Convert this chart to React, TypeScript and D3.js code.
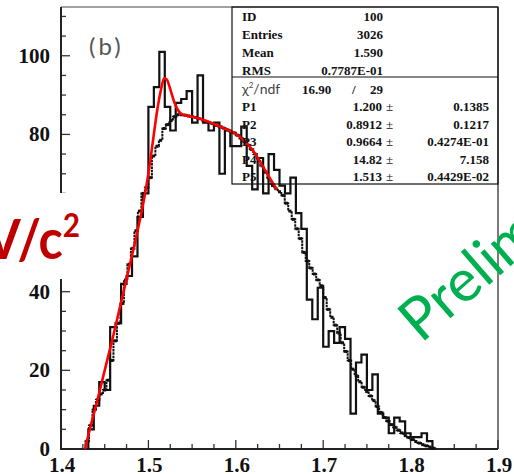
import React from 'react';
import * as d3 from 'd3';

const W = 514;
const H = 474;

// Data histogram: 80 bins of 6.25 MeV between 1.4 and 1.9
const histStart = 1.4;
const histBinWidth = 0.00625;
const dataCounts = [
  0, 0, 0, 0, 0, 5, 11, 17, 15, 31,
  32, 42, 44, 49, 59, 65, 87, 92, 101, 87,
  81, 88, 89, 91, 83, 95, 83, 81, 83, 70,
  81, 77, 77, 82, 72, 66, 74, 65, 75, 71,
  67, 65, 69, 60, 56, 38, 33, 41, 26, 30,
  27, 31, 28, 9, 22, 24, 15, 19, 9, 8,
  4, 8, 7, 4, 3, 3, 4, 2, 0, 0,
  0, 0, 0, 0, 0, 0, 0, 0, 0, 0,
];

// Reference shape (fine-binned, drawn dotted)
const mcStart = 1.428;
const mcBinWidth = 0.004;
const mcCounts = [
  2, 6, 10, 12.5, 14, 15, 17.5, 22.5, 27.5, 32,
  37, 43, 47, 51, 55.5, 60.5, 65, 66.5, 69, 74.5,
  77, 78.5, 81.5, 82.5, 83.5, 84.5, 85, 85, 84.9, 84.7,
  84.5, 84.3, 84, 83.7, 83.3, 83, 82.7, 82.3, 82, 81.6,
  81.2, 80.8, 80.4, 79.8, 79, 78.2, 77.3, 76.2, 75, 73.5,
  72, 70.4, 68.7, 67, 66.2, 65.4, 64.5, 62.5, 60.5, 58.4,
  56, 53.5, 50, 47.8, 46, 44.5, 43, 41.5, 38.5, 35.5,
  33.5, 31.5, 29.5, 27, 24.8, 22.5, 20.3, 18.6, 17.1, 15.7,
  14.6, 13.5, 12.3, 10.8, 9.3, 8, 7.1, 6.2, 5.5, 4.8,
  4.1, 3.4, 2.9, 2.4, 1.9, 1.5, 1.1, 0.8, 0.5, 0.2,
];

// Fit curve
const fitMass = [
  1.4275, 1.435, 1.44, 1.45, 1.46, 1.47, 1.48, 1.49, 1.495, 1.5,
  1.505, 1.51, 1.515, 1.518, 1.521, 1.525, 1.53, 1.535, 1.54, 1.55,
  1.56, 1.57, 1.58, 1.59, 1.6, 1.61, 1.62, 1.63, 1.64, 1.647,
];
const fitValue = [
  0, 6.8, 11, 20, 29, 38.5, 48, 58, 63.5, 70,
  78, 86, 92, 94.3, 94, 91.5, 88, 85.8, 85, 84.5,
  83.9, 83.1, 82.2, 81.2, 80.1, 78.3, 75.8, 72.2, 68.5, 66,
];

const xTicks = [1.4, 1.5, 1.6, 1.7, 1.8, 1.9];
const yTicks = [0, 20, 40, 60, 80, 100];

const statLabels = ['ID', 'Entries', 'Mean', 'RMS'];
const statValues = ['100', '3026', '1.590', '0.7787E-01'];
const chi2Value = '16.90';
const ndfValue = '29';
const parNames = ['P1', 'P2', 'P3', 'P4', 'P5'];
const parValues = ['1.200', '0.8912', '0.9664', '14.82', '1.513'];
const parErrors = ['0.1385', '0.1217', '0.4274E-01', '7.158', '0.4429E-02'];

const serif = '"Liberation Serif", "Times New Roman", serif';
const sans = 'Lato, "Open Sans", sans-serif';

export default function App() {
  const x = d3.scaleLinear().domain([1.4, 1.9]).range([61, 498]);
  const y = d3.scaleLinear().domain([0, 112.4]).range([449, 7]);

  type P = { m: number; v: number };
  const stepLine = d3
    .line<P>()
    .x((d) => x(d.m))
    .y((d) => y(d.v))
    .curve(d3.curveStepAfter);

  // data histogram outline
  const first = dataCounts.findIndex((c) => c > 0);
  let last = dataCounts.length - 1;
  while (dataCounts[last] === 0) last--;
  const histPts: P[] = [{ m: histStart + first * histBinWidth, v: 0 }];
  for (let i = first; i <= last; i++) {
    histPts.push({ m: histStart + i * histBinWidth, v: dataCounts[i] });
  }
  histPts.push({ m: histStart + (last + 1) * histBinWidth, v: 0 });
  const histPath = stepLine(histPts) || '';

  // dotted reference shape
  const mcPts: P[] = [{ m: mcStart, v: 0 }];
  mcCounts.forEach((c, i) => mcPts.push({ m: mcStart + i * mcBinWidth, v: c }));
  mcPts.push({ m: mcStart + mcCounts.length * mcBinWidth, v: 0 });
  const mcPath = stepLine(mcPts) || '';
  const mcMarks = mcCounts.map((c, i) => ({
    cx: x(mcStart + (i + 0.5) * mcBinWidth),
    cy: y(c),
  }));

  const fitLine = d3
    .line<number>()
    .x((_, i) => x(fitMass[i]))
    .y((d) => y(d))
    .curve(d3.curveMonotoneX);
  const fitPath = fitLine(fitValue) || '';

  const xMinor = d3.range(0, 21).map((i) => 1.4 + i * 0.025);
  const yMinor = d3.range(0, 23).map((i) => i * 5);

  const upperRows = [20.5, 38.5, 56.5, 74.5];
  const parRows = [111, 128.5, 146, 163.5, 180.5];

  return (
    <svg
      width={W}
      height={H}
      viewBox={`0 0 ${W} ${H}`}
      style={{ position: 'absolute', left: 0, top: 0, display: 'block', background: '#fff' }}
    >
      <rect x={0} y={0} width={W} height={H} fill="#fff" />

      {/* axis ticks */}
      <g stroke="#333" strokeWidth={1.3}>
        {xMinor.map((t, i) => {
          const major = i % 4 === 0;
          return (
            <line key={`xt${i}`} x1={x(t)} x2={x(t)} y1={449} y2={449 - (major ? 9 : 5)} />
          );
        })}
        {yMinor.map((t, i) => {
          const major = i % 4 === 0;
          return (
            <line key={`yt${i}`} x1={61} x2={61 + (major ? 9 : 5)} y1={y(t)} y2={y(t)} />
          );
        })}
      </g>

      {/* frame */}
      <line x1={61} x2={498} y1={7} y2={7} stroke="#444" strokeWidth={1} />
      <line x1={498} x2={498} y1={7} y2={449} stroke="#222" strokeWidth={1.2} />
      <line x1={61} x2={61} y1={7} y2={449} stroke="#222" strokeWidth={2} />
      <line x1={60} x2={498} y1={449} y2={449} stroke="#222" strokeWidth={2} />

      {/* tick labels */}
      <g fontFamily={serif} fontWeight="bold" fontSize={21} fill="#111">
        {xTicks.map((t) => (
          <text key={`xl${t}`} x={x(t) + 1} y={472} textAnchor="middle">
            {t.toFixed(1)}
          </text>
        ))}
        {yTicks.map((t) => (
          <text key={`yl${t}`} x={50} y={y(t) + 7} textAnchor="end">
            {t}
          </text>
        ))}
      </g>

      {/* reference shape */}
      <path d={mcPath} fill="none" stroke="#111" strokeWidth={2} strokeDasharray="2.5,0.8" />
      {mcMarks.map((d, i) => (
        <rect key={`mk${i}`} x={d.cx - 1.5} y={d.cy - 1.5} width={3} height={3} fill="#111" />
      ))}

      {/* data */}
      <path d={histPath} fill="none" stroke="#111" strokeWidth={2.2} />

      {/* fit */}
      <path d={fitPath} fill="none" stroke="#ff0000" strokeWidth={2.6} />

      {/* statistics box */}
      <rect x={232} y={7} width={266} height={177} fill="none" stroke="#111" strokeWidth={1.2} />
      <line x1={232} x2={498} y1={77} y2={77} stroke="#111" strokeWidth={1.2} />
      <g fontFamily={serif} fontWeight="bold" fontSize={13} fill="#111">
        {statLabels.map((s, i) => (
          <text key={`sl${i}`} x={242} y={upperRows[i]}>
            {s}
          </text>
        ))}
        {statValues.map((s, i) => (
          <text key={`sv${i}`} x={383} y={upperRows[i]} textAnchor="end">
            {s}
          </text>
        ))}
        <text x={302} y={93.5}>{chi2Value}</text>
        <text x={352} y={93.5}>/</text>
        <text x={383} y={93.5} textAnchor="end">
          {ndfValue}
        </text>
        {parNames.map((s, i) => (
          <text key={`pn${i}`} x={242} y={parRows[i]}>
            {s}
          </text>
        ))}
        {parValues.map((s, i) => (
          <text key={`pv${i}`} x={382} y={parRows[i]} textAnchor="end">
            {s}
          </text>
        ))}
        {parValues.map((_, i) => (
          <text key={`pm${i}`} x={386} y={parRows[i]} fontWeight="normal">
            ±
          </text>
        ))}
        {parErrors.map((s, i) => (
          <text key={`pe${i}`} x={489} y={parRows[i]} textAnchor="end">
            {s}
          </text>
        ))}
      </g>
      <text x={242} y={93.5} fontFamily={sans} fontSize={14} fill="#444">
        χ
        <tspan fontSize={8} dy={-6}>
          2
        </tspan>
        <tspan dy={6}>/ndf</tspan>
      </text>

      {/* panel label */}
      <text x={89} y={55} fontFamily={sans} fontSize={24} fill="#555" letterSpacing={3}>
        (b)
      </text>

      {/* unit label with white backing */}
      <rect x={0} y={193} width={112} height={86} fill="#fff" />
      <g transform="translate(80,259) scale(0.9,1)">
        <text
          x={0}
          y={0}
          textAnchor="end"
          fontFamily={sans}
          fontWeight="bold"
          fontSize={56}
          fill="#c00000"
        >
          GeV/c
          <tspan fontSize={33} dy={-22}>
            2
          </tspan>
        </text>
      </g>

      {/* watermark */}
      <text
        transform="translate(421,344) rotate(-41)"
        fontFamily={sans}
        fontSize={59}
        fill="#00b050"
      >
        Preliminary
      </text>
    </svg>
  );
}
